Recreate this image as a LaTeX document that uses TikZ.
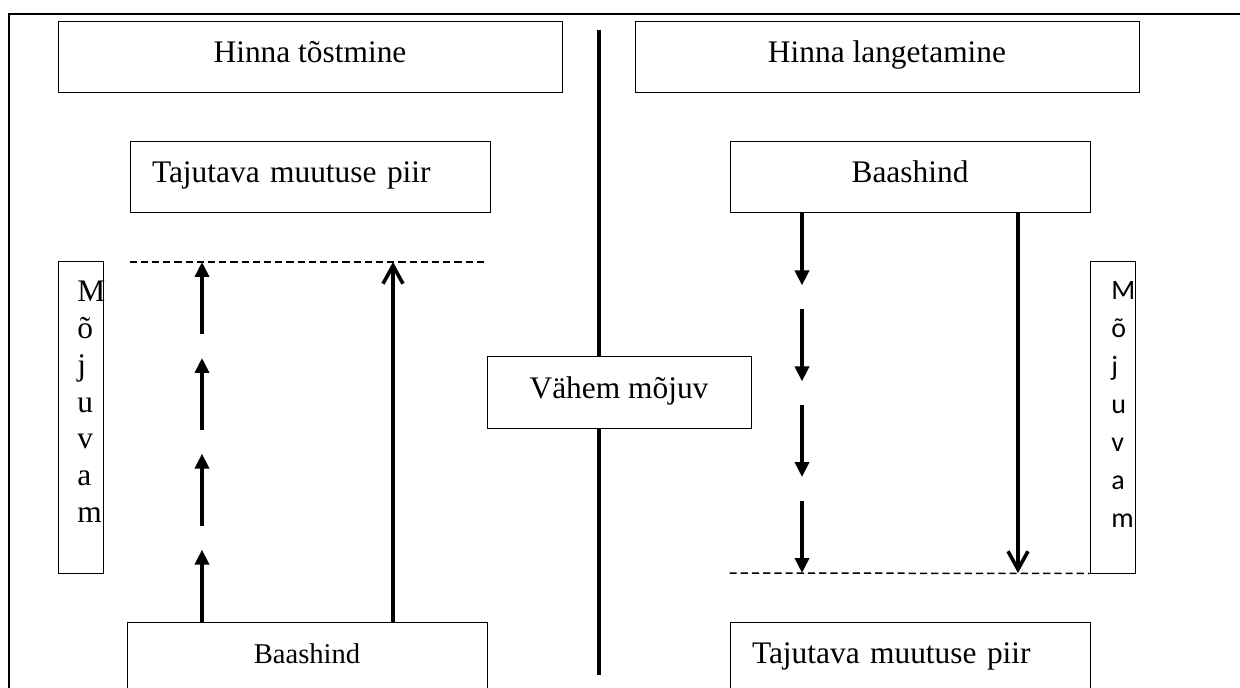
\documentclass[tikz,border=0pt]{standalone}
\usepackage{fontspec}
\setmainfont{Liberation Serif}
\newfontfamily\calibrifont{Carlito}
\usepackage{tikz}
\usetikzlibrary{arrows.meta,calc,positioning}

\begin{document}
\begin{tikzpicture}[
                    x=0.5pt,
                    y=-0.5pt,
                    textfont/.style={font=\fontsize{15.7}{18}\selectfont},
                    titlebox/.style={draw, line width=0.5pt, fill=white, inner sep=0pt,
                        minimum width=252pt, minimum height=35.5pt,
                        text height=9pt, text depth=3.5pt, textfont},
                    levelbox/.style={titlebox, minimum width=180pt},
                    levelleft/.style={levelbox, text width=158pt, inner xsep=11pt, align=left},
                    sidebox/.style={draw, line width=0.5pt, inner sep=0pt,
                        minimum width=22.5pt, minimum height=155.5pt},
                    limitline/.style={line width=0.75pt, dash pattern=on 3.6pt off 2pt},
                    smallstep/.style={line width=1.8pt, -{Triangle[length=7.5pt,width=7pt]}},
                    bigjump/.style={line width=1.8pt, -{Straight Barb[length=9pt,width=10pt]}}
                ]
                \clip (0,0) rectangle (1240,688);
                \draw[line width=0.85pt] (9,700) -- (9,14) -- (1250,14);

                \node[titlebox] (raise) at (310,57.5) {Hinna tõstmine};
                \node[titlebox, right=36pt of raise] (lower) {Hinna langetamine};

                \node[levelleft] (limitL) at (310,177.5) {Tajutava muutuse piir};
                \node[levelbox] (baseR) at (910,177.5) {Baashind};
                \node[levelbox, font=\fontsize{14.3}{17}\selectfont] (baseL) at (307,657.5) {Baashind};
                \node[levelleft] (limitR) at (910,657.5) {Tajutava muutuse piir};

                \node[sidebox] (moreL) at (80.5,417.5) {};
                \node[sidebox] (moreR) at (1112.5,417.5) {};
                \foreach \ch [count=\i from 0] in {M,õ,j,u,v,a,m}
                    \node[anchor=base west, inner sep=0pt, textfont] (moreL\i) at (77,302+36.7*\i) {\ch};
                \foreach \ch [count=\i from 0] in {M,õ,j,u,v,a,m}
                    \node[anchor=base west, inner sep=0pt, font=\calibrifont\fontsize{14}{17}\selectfont] (moreR\i) at (1111,300+38*\i) {\ch};

                \coordinate (upL) at (202,262);
                \coordinate (jumpL) at (393,262);
                \coordinate (downR) at (802,573);
                \coordinate (jumpR) at (1018,573);

                \draw[limitline] (limitL.west |- upL) -- (baseL.east |- upL);
                \draw[limitline] (limitR.west |- downR) -- (moreR.south west);

                \path[bigjump] (jumpL |- baseL.north) edge (jumpL)
                    (jumpR |- baseR.south) edge (jumpR);

                \foreach \s/\e in {0/0.2, 0.267/0.467, 0.533/0.733, 0.8/1}
                {
                    \draw[smallstep] ($(upL |- baseL.north)!\s!(upL)$) -- ($(upL |- baseL.north)!\e!(upL)$);
                    \draw[smallstep] ($(downR |- baseR.south)!\s!(downR)$) -- ($(downR |- baseR.south)!\e!(downR)$);
                }

                \coordinate (midtop) at (599,30);
                \coordinate (midbot) at (599,675);
                \draw[line width=2pt] (midtop) -- (midbot);
                \node[levelbox, minimum width=132pt, minimum height=36pt] (less) at (619,393) {Vähem mõjuv};
            \end{tikzpicture}
\end{document}
